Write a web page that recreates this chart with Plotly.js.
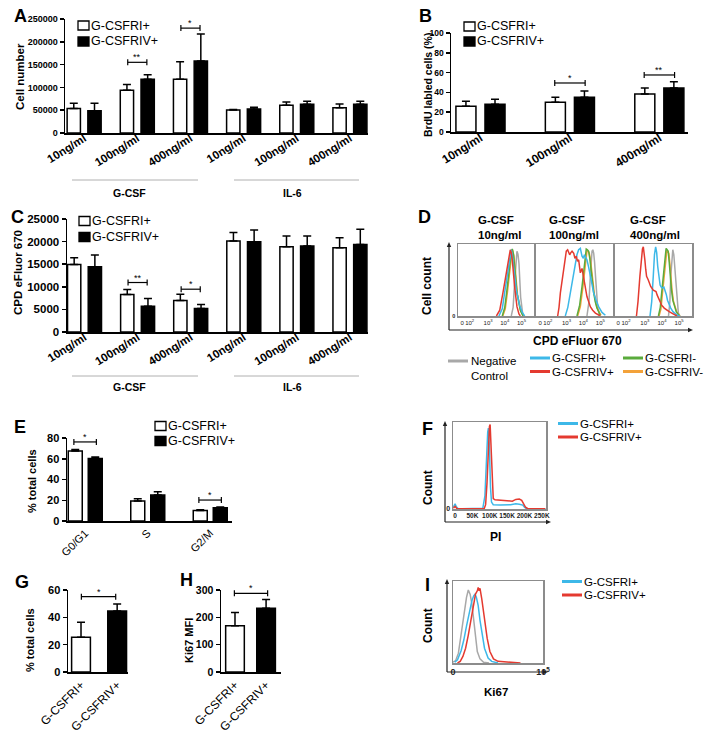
<!DOCTYPE html>
<html><head><meta charset="utf-8">
<script src="https://cdn.plot.ly/plotly-3.0.1.min.js"></script>
<style>html,body{margin:0;padding:0;background:#fff}#chart{width:709px;height:733px}</style>
</head><body><div id="chart"></div>
<script>
// ================= DATA =================
const seriesNames = ['G-CSFRI+', 'G-CSFRIV+'];
// Panel A / C categories
const doseCats = ['G-CSF 10ng/ml', 'G-CSF 100ng/ml', 'G-CSF 400ng/ml', 'IL-6 10ng/ml', 'IL-6 100ng/ml', 'IL-6 400ng/ml'];
const doseTicks = ['10ng/ml', '100ng/ml', '400ng/ml', '10ng/ml', '100ng/ml', '400ng/ml'];
const stimGroups = ['G-CSF', 'IL-6'];
// Panel A: cell number
const cellRI = [54000, 94000, 118000, 50400, 60700, 55500];
const cellRIerr = [11000, 12500, 38000, 1000, 7300, 8000];
const cellRIV = [49000, 118000, 158000, 52600, 62900, 62900];
const cellRIVerr = [16000, 10000, 59000, 3700, 6600, 6600];
const sigA_cat = [1, 2];
const sigA_y = [155000, 230000];
const sigA_txt = ['**', '*'];
// Panel B: BrdU
const brduCats = ['10ng/ml', '100ng/ml', '400ng/ml'];
const brduRI = [26, 30, 38.4];
const brduRIerr = [5, 5, 6];
const brduRIV = [28, 35, 44.4];
const brduRIVerr = [5, 6.4, 6.4];
const sigB_cat = [1, 2];
const sigB_y = [49.5, 57.6];
const sigB_txt = ['*', '**'];
// Panel C: CPD eFluor 670
const cpdRI = [14940, 8280, 6950, 20120, 18860, 18640];
const cpdRIerr = [1480, 1110, 1400, 1920, 2370, 2220];
const cpdRIV = [14420, 5700, 5180, 19970, 19010, 19380];
const cpdRIVerr = [2590, 1700, 890, 2590, 2220, 3330];
const sigC_cat = [1, 2];
const sigC_y = [10950, 9470];
const sigC_txt = ['**', '*'];
// Panel D: CPD histograms (x in display decades, y in % of max)
const dTitles = ['G-CSF<br>10ng/ml', 'G-CSF<br>100ng/ml', 'G-CSF<br>400ng/ml'];
const dSeries = ['Negative Control', 'G-CSFRI+', 'G-CSFRI-', 'G-CSFRIV+', 'G-CSFRIV-'];
const dTickVals = [0.45, 0.9, 2, 3, 4];
const dTickText = ['0', '10<sup>2</sup>', '10<sup>3</sup>', '10<sup>4</sup>', '10<sup>5</sup>'];
// box 1 (10 ng/ml)
const d1NegX = [3.39, 3.5, 3.59, 3.66, 3.73, 3.79, 3.85, 3.95, 4.09];
const d1NegY = [0, 12, 46, 75, 90, 86, 73, 26, 0];
const d1RIpX = [2.65, 2.85, 2.99, 3.12, 3.25, 3.33, 3.39, 3.46, 3.53, 3.69, 3.89, 4.05, 4.19];
const d1RIpY = [0, 10, 32, 52, 73, 88, 92, 84, 69, 36, 15, 5, 0];
const d1RIVpX = [2.5, 2.7, 2.89, 3.05, 3.19, 3.27, 3.33, 3.39, 3.45, 3.59, 3.73, 3.85, 3.93];
const d1RIVpY = [0, 8, 32, 55, 78, 88, 92, 88, 78, 41, 13, 3, 0];
const d1RInX = [2.85, 3.0, 3.13, 3.25, 3.33, 3.4, 3.45, 3.52, 3.59, 3.73, 3.93, 4.09];
const d1RInY = [0, 12, 36, 65, 83, 91, 93, 86, 69, 32, 8, 0];
const d1RIVnX = [2.88, 3.03, 3.16, 3.28, 3.36, 3.43, 3.48, 3.55, 3.62, 3.76, 3.96, 4.12];
const d1RIVnY = [0, 10, 33, 60, 80, 89, 90, 83, 66, 30, 7, 0];
// box 2 (100 ng/ml)
const d2NegX = [3.21, 3.33, 3.41, 3.47, 3.51, 3.56, 3.61, 3.66, 3.71, 3.78, 3.84, 3.96];
const d2NegY = [0, 20, 55, 80, 90, 92, 87, 75, 55, 30, 13, 0];
const d2RIpX = [1.93, 2.08, 2.23, 2.38, 2.52, 2.62, 2.72, 2.82, 2.92, 3.0, 3.06, 3.13, 3.21, 3.31, 3.41, 3.51, 3.61, 3.75, 3.9, 4.1, 4.3];
const d2RIpY = [0, 12, 32, 52, 73, 85, 92, 94, 83, 80, 85, 82, 78, 68, 55, 43, 32, 22, 13, 5, 1];
const d2RIVpX = [1.48, 1.56, 1.64, 1.74, 1.83, 1.92, 1.99, 2.07, 2.13, 2.19, 2.26, 2.33, 2.43, 2.5, 2.58, 2.65, 2.72, 2.82, 2.92, 3.0, 3.06, 3.14, 3.21, 3.31, 3.41, 3.55, 3.71, 4.0];
const d2RIVpY = [0, 12, 32, 50, 69, 82, 90, 92, 88, 85, 88, 90, 87, 80, 83, 76, 78, 60, 66, 55, 48, 38, 27, 20, 13, 8, 4, 0];
const d2RInX = [2.62, 2.78, 2.92, 3.0, 3.06, 3.12, 3.17, 3.24, 3.31, 3.38, 3.45, 3.53, 3.61, 3.7, 3.8, 4.0];
const d2RInY = [0, 15, 41, 58, 73, 86, 93, 92, 90, 80, 64, 46, 32, 20, 11, 1];
const d2RIVnX = [2.66, 2.82, 2.96, 3.04, 3.1, 3.16, 3.21, 3.28, 3.35, 3.42, 3.49, 3.57, 3.65, 3.74, 3.84, 4.04];
const d2RIVnY = [0, 13, 38, 55, 70, 84, 90, 90, 87, 78, 62, 44, 30, 18, 10, 1];
// box 3 (400 ng/ml)
const d3NegX = [3.38, 3.46, 3.51, 3.57, 3.63, 3.69, 3.75, 3.81, 3.87, 3.95, 4.02];
const d3NegY = [0, 20, 55, 82, 92, 85, 64, 40, 18, 5, 0];
const d3RIpX = [2.3, 2.4, 2.49, 2.56, 2.63, 2.69, 2.75, 2.82, 2.89, 2.96, 3.04, 3.11, 3.18, 3.25, 3.32, 3.42, 3.51, 3.64, 3.77, 3.9, 4.06];
const d3RIpY = [0, 20, 55, 85, 96, 88, 69, 52, 43, 40, 39, 40, 36, 30, 22, 16, 11, 6, 3, 1, 0];
const d3RIVpX = [1.51, 1.6, 1.71, 1.77, 1.81, 1.86, 1.91, 1.96, 2.0, 2.05, 2.1, 2.2, 2.34, 2.49, 2.57, 2.65, 2.72, 2.79, 2.88, 2.98, 3.13, 3.28, 3.42, 3.57, 3.72, 3.87];
const d3RIVpY = [0, 20, 55, 75, 87, 93, 96, 88, 78, 65, 55, 50, 41, 36, 35, 34, 29, 25, 20, 15, 11, 8, 6, 4, 2, 0];
const d3RInX = [2.79, 2.9, 2.98, 3.05, 3.12, 3.18, 3.24, 3.3, 3.36, 3.42, 3.47, 3.55, 3.63, 3.73, 3.83, 4.02];
const d3RInY = [0, 12, 32, 50, 69, 86, 94, 92, 90, 75, 55, 37, 22, 12, 6, 0];
const d3RIVnX = [2.83, 2.94, 3.02, 3.09, 3.16, 3.22, 3.28, 3.34, 3.4, 3.46, 3.51, 3.59, 3.67, 3.77, 3.87, 4.06];
const d3RIVnY = [0, 10, 30, 48, 66, 82, 90, 90, 87, 72, 53, 35, 20, 11, 5, 0];
// Panel E: cell cycle
const phaseCats = ['G0/G1', 'S', 'G2/M'];
const phaseRI = [67.5, 19.2, 10.2];
const phaseRIerr = [1.3, 2.2, 0.7];
const phaseRIV = [60.2, 25, 12.8];
const phaseRIVerr = [1.6, 3.2, 0.6];
const sigE_cat = [0, 2];
const sigE_y = [76.2, 20.2];
const sigE_txt = ['*', '*'];
// Panel F: PI histogram
const piTickVals = [0, 50000, 100000, 150000, 200000, 250000];
const piTickText = ['0', '50K', '100K', '150K', '200K', '250K'];
const piRIx = [-5000, 0, 3000, 8000, 20000, 60000, 80000, 86000, 90000, 94000, 96000, 99000, 102000, 105000, 110000, 130000, 160000, 175000, 185000, 195000, 200000, 205000, 215000, 260000];
const piRIy = [2, 6, 3, 0.5, 0.3, 0.3, 1, 15, 55, 88, 93, 70, 25, 8, 5, 4.5, 5, 6, 5.5, 4.5, 2, 0.5, 0.2, 0.2];
const piRIVx = [-5000, 0, 5000, 20000, 60000, 84000, 88000, 92000, 96000, 99000, 101000, 104000, 107000, 110000, 115000, 130000, 150000, 165000, 175000, 185000, 192000, 198000, 203000, 210000, 260000];
const piRIVy = [1, 3, 0.5, 0.3, 0.3, 0.5, 5, 30, 75, 95, 97, 70, 25, 12, 10.5, 10, 9, 9, 11, 11.5, 10, 6, 2, 0.3, 0.2];
// Panel G: Ki67+ %
const ki67Cats = ['G-CSFRI+', 'G-CSFRIV+'];
const ki67Pct = [25.5, 44.7];
const ki67PctErr = [10.9, 5.1];
const sigG_y = 55.1;
// Panel H: Ki67 MFI
const ki67MFI = [169, 233];
const ki67MFIerr = [48.5, 32];
const sigH_y = 288;
// Panel I: Ki67 histogram (x as fraction of 0..10^5 display)
const kiTickVals = [0, 1];
const kiTickText = ['0', '10<sup>5</sup>'];
const kiNegX = [0.0, 0.03, 0.06, 0.09, 0.12, 0.15, 0.17, 0.19, 0.21, 0.23, 0.25, 0.27, 0.3, 0.34, 0.4];
const kiNegY = [1, 3, 12, 35, 60, 80, 89, 84, 72, 52, 30, 14, 5, 1, 0];
const kiRIx = [0.02, 0.05, 0.09, 0.12, 0.15, 0.18, 0.21, 0.23, 0.245, 0.26, 0.28, 0.3, 0.32, 0.35, 0.39, 0.43, 0.5];
const kiRIy = [1, 4, 15, 28, 45, 62, 76, 82, 84, 80, 70, 52, 36, 18, 6, 2, 0];
const kiRIVx = [0.05, 0.08, 0.11, 0.14, 0.17, 0.2, 0.23, 0.25, 0.27, 0.28, 0.29, 0.3, 0.32, 0.35, 0.38, 0.41, 0.45, 0.5, 0.6, 0.66, 0.75];
const kiRIVy = [0, 2, 8, 18, 34, 52, 72, 84, 88, 92, 88, 91, 78, 52, 30, 14, 5, 2, 1, 0.5, 0];

// ================= STYLE / LAYOUT HELPERS =================
const W = 709, H = 733;
const FONT = 'Arial, "Liberation Sans", sans-serif';
const X = v => v / W, Y = v => 1 - v / H;
const xdom = (a, b) => [a / W, b / W];
const ydom = (t, b) => [1 - b / H, 1 - t / H];
const C = { neg: '#a8a8a8', ripos: '#3db8e8', rineg: '#5aab3c', rivpos: '#e43a30', rivneg: '#f3a23a', box: '#8c8c8c' };
const zeros = a => a.map(() => 0);
const base = { showgrid: false, zeroline: false, fixedrange: true };
const bold = s => ({ family: FONT, size: s, color: 'black', weight: 'bold' });

function barX(dom, anchor, cats, ticks, range, angle, fs, weight, standoff) {
  return Object.assign({}, base, {
    domain: xdom(dom[0], dom[1]), anchor, type: 'category', categoryorder: 'array', categoryarray: cats,
    range, tickmode: 'array', tickvals: cats, ticktext: ticks, tickangle: angle, ticks: '',
    ticklabelstandoff: standoff || 0,
    showline: true, linecolor: 'black', linewidth: 1.5,
    tickfont: { family: FONT, size: fs, color: 'black', weight }
  });
}
function barY(dom, anchor, range, dtick, fs) {
  return Object.assign({}, base, {
    domain: ydom(dom[0], dom[1]), anchor, range, dtick, tick0: 0, tickformat: 'd',
    ticks: 'outside', ticklen: 4, tickwidth: 1.5, tickcolor: 'black',
    showline: true, linecolor: 'black', linewidth: 1.5,
    tickfont: bold(fs)
  });
}
function histX(dom, anchor, range, tv, tt, fs, weight) {
  return Object.assign({}, base, {
    domain: xdom(dom[0], dom[1]), anchor, range, tickmode: 'array', tickvals: tv, ticktext: tt,
    tickangle: 0, ticks: '', showline: true, mirror: true, linecolor: C.box, linewidth: 1.5,
    tickfont: { family: FONT, size: fs, color: '#222', weight: weight || 'normal' }
  });
}
function histY(dom, anchor, show0, fs) {
  return Object.assign({}, base, {
    domain: ydom(dom[0], dom[1]), anchor, range: [0, 100], tickmode: 'array',
    tickvals: [0], ticktext: ['0'], showticklabels: show0, ticks: '',
    showline: true, mirror: true, linecolor: C.box, linewidth: 1.5,
    tickfont: { family: FONT, size: fs, color: '#222', weight: 'bold' }
  });
}
function bar(xa, ya, x, y, err, color, offset, width, name) {
  return {
    type: 'bar', x, y, xaxis: xa, yaxis: ya, offset, width, name, showlegend: false,
    marker: { color, line: { color: 'black', width: 1.5 } },
    error_y: { type: 'data', array: err, arrayminus: zeros(err), symmetric: false, color: 'black', thickness: 1.5, width: 4 },
    hoverinfo: 'skip'
  };
}
function line(xa, ya, x, y, color, name) {
  return { type: 'scatter', mode: 'lines', x, y, xaxis: xa, yaxis: ya, name, showlegend: false,
    line: { color, width: 1.5 }, hoverinfo: 'skip' };
}

const traces = [];
const shapes = [];
const annotations = [];
function txt(x, y, text, font, opts) {
  annotations.push(Object.assign({ xref: 'paper', yref: 'paper', x: X(x), y: Y(y), text, showarrow: false,
    xanchor: 'center', yanchor: 'middle', borderpad: 0, font }, opts || {}));
}
function bracket(xa, ya, xl, xr, y, label) {
  const ln = { color: 'black', width: 1.2 };
  shapes.push({ type: 'line', xref: xa, yref: ya, x0: xl, x1: xr, y0: y, y1: y, line: ln });
  [xl, xr].forEach(xx => shapes.push({ type: 'line', xref: xa, yref: ya, x0: xx, x1: xx,
    ysizemode: 'pixel', yanchor: y, y0: -3, y1: 3, line: ln }));
  annotations.push({ xref: xa, yref: ya, x: (xl + xr) / 2, y, text: label, showarrow: false,
    xanchor: 'center', yanchor: 'bottom', yshift: -1, borderpad: 0, font: { family: FONT, size: 9, color: 'black' } });
}
function pline(x0, y0, x1, y1, color, width) {
  shapes.push({ type: 'line', xref: 'paper', yref: 'paper', x0: X(x0), y0: Y(y0), x1: X(x1), y1: Y(y1),
    line: { color, width } });
}
function prect(x0, y0, x1, y1, fill) {
  shapes.push({ type: 'rect', xref: 'paper', yref: 'paper', x0: X(x0), y0: Y(y0), x1: X(x1), y1: Y(y1),
    fillcolor: fill, line: { color: 'black', width: 1.3 } });
}
function arrowAxes(xL, yTop, yBot, xRight) {
  pline(xL, yBot, xL, yTop + 3, '#222', 1.2);
  pline(xL, yBot, xRight - 3, yBot, '#222', 1.2);
  shapes.push({ type: 'path', xref: 'paper', yref: 'paper', fillcolor: '#222', line: { width: 0 },
    path: `M${X(xL - 2.2)},${Y(yTop + 5)} L${X(xL)},${Y(yTop)} L${X(xL + 2.2)},${Y(yTop + 5)} Z` });
  shapes.push({ type: 'path', xref: 'paper', yref: 'paper', fillcolor: '#222', line: { width: 0 },
    path: `M${X(xRight - 5)},${Y(yBot - 2.2)} L${X(xRight)},${Y(yBot)} L${X(xRight - 5)},${Y(yBot + 2.2)} Z` });
}
const legFont = { family: FONT, size: 12.5, color: 'black' };
const legFontS = { family: FONT, size: 11.5, color: 'black' };
function barLegend(x, y1, y2) {
  prect(x, y1 - 4.5, x + 11, y1 + 4.5, 'white');
  prect(x, y2 - 4.5, x + 11, y2 + 4.5, 'black');
  txt(x + 12, y1, seriesNames[0], legFont, { xanchor: 'left' });
  txt(x + 12, y2, seriesNames[1], legFont, { xanchor: 'left' });
}
function lineLegend(x, y, color, label) {
  pline(x, y, x + 20, y, color, 3);
  txt(x + 21, y, label, legFontS, { xanchor: 'left', align: 'left' });
}

// ---------- Panel A ----------
traces.push(bar('x', 'y', doseCats, cellRI, cellRIerr, 'white', -0.32, 0.25, seriesNames[0]));
traces.push(bar('x', 'y', doseCats, cellRIV, cellRIVerr, 'black', 0.07, 0.25, seriesNames[1]));
sigA_cat.forEach((c, i) => bracket('x', 'y', c - 0.18, c + 0.18, sigA_y[i], sigA_txt[i]));
barLegend(78, 25.5, 41.5);
// ---------- Panel B ----------
traces.push(bar('x2', 'y2', brduCats, brduRI, brduRIerr, 'white', -0.275, 0.224, seriesNames[0]));
traces.push(bar('x2', 'y2', brduCats, brduRIV, brduRIVerr, 'black', 0.05, 0.224, seriesNames[1]));
sigB_cat.forEach((c, i) => bracket('x2', 'y2', c - 0.17, c + 0.17, sigB_y[i], sigB_txt[i]));
barLegend(464, 26.5, 41.5);
// ---------- Panel C ----------
traces.push(bar('x3', 'y3', doseCats, cpdRI, cpdRIerr, 'white', -0.32, 0.25, seriesNames[0]));
traces.push(bar('x3', 'y3', doseCats, cpdRIV, cpdRIVerr, 'black', 0.07, 0.25, seriesNames[1]));
sigC_cat.forEach((c, i) => bracket('x3', 'y3', c - 0.18, c + 0.18, sigC_y[i], sigC_txt[i]));
barLegend(79, 221, 237);
// ---------- Panel D ----------
const dBoxes = [
  [d1NegX, d1NegY, d1RIVnX, d1RIVnY, d1RInX, d1RInY, d1RIpX, d1RIpY, d1RIVpX, d1RIVpY],
  [d2NegX, d2NegY, d2RIVnX, d2RIVnY, d2RInX, d2RInY, d2RIpX, d2RIpY, d2RIVpX, d2RIVpY],
  [d3NegX, d3NegY, d3RIVnX, d3RIVnY, d3RInX, d3RInY, d3RIpX, d3RIpY, d3RIVpX, d3RIVpY]
];
dBoxes.forEach((b, i) => {
  const xa = 'x' + (4 + i), ya = 'y' + (4 + i);
  traces.push(line(xa, ya, b[0], b[1], C.neg, dSeries[0]));
  traces.push(line(xa, ya, b[2], b[3], C.rivneg, dSeries[4]));
  traces.push(line(xa, ya, b[4], b[5], C.rineg, dSeries[2]));
  traces.push(line(xa, ya, b[6], b[7], C.ripos, dSeries[1]));
  traces.push(line(xa, ya, b[8], b[9], C.rivpos, dSeries[3]));
});
[477, 548, 629].forEach((x, i) => txt(x, 213, dTitles[i], bold(11.5), { xanchor: 'left', yanchor: 'top', align: 'left' }));
txt(427, 286, 'Cell count', bold(12), { textangle: -90 });
txt(577, 341, 'CPD eFluor 670', bold(12));
arrowAxes(449, 242, 330, 693);
pline(448, 361, 468, 361, C.neg, 3);
txt(470, 368, 'Negative<br>Control', legFontS, { xanchor: 'left', align: 'left' });
lineLegend(530, 358, C.ripos, dSeries[1]);
lineLegend(530, 371.5, C.rivpos, dSeries[3]);
lineLegend(623, 358, C.rineg, dSeries[2]);
lineLegend(623, 371.5, C.rivneg, dSeries[4]);
// ---------- Panel E ----------
traces.push(bar('x7', 'y7', phaseCats, phaseRI, phaseRIerr, 'white', -0.27, 0.224, seriesNames[0]));
traces.push(bar('x7', 'y7', phaseCats, phaseRIV, phaseRIVerr, 'black', 0.05, 0.224, seriesNames[1]));
sigE_cat.forEach((c, i) => bracket('x7', 'y7', c - 0.18, c + 0.18, sigE_y[i], sigE_txt[i]));
barLegend(155, 426, 441);
// ---------- Panel F ----------
traces.push(line('x8', 'y8', piRIx, piRIy, C.ripos, seriesNames[0]));
traces.push(line('x8', 'y8', piRIVx, piRIVy, C.rivpos, seriesNames[1]));
lineLegend(558, 423.5, C.ripos, seriesNames[0]);
lineLegend(558, 437, C.rivpos, seriesNames[1]);
txt(428, 487, 'Count', bold(12), { textangle: -90 });
txt(495, 537, 'PI', bold(12));
arrowAxes(445, 421, 522, 551);
// ---------- Panel G ----------
traces.push({ type: 'bar', x: ki67Cats, y: ki67Pct, xaxis: 'x9', yaxis: 'y9', width: 0.52, showlegend: false,
  marker: { color: ['white', 'black'], line: { color: 'black', width: 1.5 } },
  error_y: { type: 'data', array: ki67PctErr, arrayminus: zeros(ki67PctErr), symmetric: false, color: 'black', thickness: 1.5, width: 4 },
  hoverinfo: 'skip' });
bracket('x9', 'y9', 0.01, 0.96, sigG_y, '*');
// ---------- Panel H ----------
traces.push({ type: 'bar', x: ki67Cats, y: ki67MFI, xaxis: 'x10', yaxis: 'y10', width: 0.6, showlegend: false,
  marker: { color: ['white', 'black'], line: { color: 'black', width: 1.5 } },
  error_y: { type: 'data', array: ki67MFIerr, arrayminus: zeros(ki67MFIerr), symmetric: false, color: 'black', thickness: 1.5, width: 4 },
  hoverinfo: 'skip' });
bracket('x10', 'y10', -0.02, 1.05, sigH_y, '*');
// ---------- Panel I ----------
traces.push(line('x11', 'y11', kiNegX, kiNegY, C.neg, 'Negative Control'));
traces.push(line('x11', 'y11', kiRIx, kiRIy, C.ripos, seriesNames[0]));
traces.push(line('x11', 'y11', kiRIVx, kiRIVy, C.rivpos, seriesNames[1]));
lineLegend(562, 581.5, C.ripos, seriesNames[0]);
lineLegend(562, 595, C.rivpos, seriesNames[1]);
txt(428, 625, 'Count', bold(12), { textangle: -90 });
txt(496, 692, 'Ki67', bold(11.5));
arrowAxes(447, 579, 672, 548);

// ---------- shared decorations ----------
[[180, 193], [376, 387]].forEach(([ly, ty]) => {
  pline(72, ly, 198, ly, '#b0b0b0', 1);
  pline(234, ly, 359, ly, '#b0b0b0', 1);
  txt(129, ty, stimGroups[0], bold(10.5));
  txt(292, ty, stimGroups[1], bold(10.5));
});
// y-axis titles
txt(20, 77, 'Cell number', bold(11.5), { textangle: -90 });
txt(428, 85, 'BrdU labled cells (%)', bold(10.5), { textangle: -90 });
txt(18, 273, 'CPD eFluor 670', bold(11.5), { textangle: -90 });
txt(32, 481, '% total cells', bold(11), { textangle: -90 });
txt(30, 640, '% total cells', bold(11), { textangle: -90 });
txt(189, 640, 'Ki67 MFI', bold(11), { textangle: -90 });
// panel letters
[['A', 20, 16], ['B', 426, 16], ['C', 17, 217], ['D', 425, 217], ['E', 20, 427], ['F', 428, 429],
 ['G', 22, 582], ['H', 186, 580], ['I', 428, 585]].forEach(([t, x, y]) => txt(x, y, t, bold(18)));

const layout = {
  width: W, height: H, margin: { l: 0, r: 0, t: 0, b: 0 }, paper_bgcolor: 'white', plot_bgcolor: 'rgba(0,0,0,0)',
  barmode: 'overlay', showlegend: false, font: { family: FONT, color: 'black' },
  xaxis: barX([65, 368], 'y', doseCats, doseTicks, [-0.36, 5.34], -32, 11.5, 'bold', -7),
  yaxis: barY([19, 133], 'x', [0, 250000], 50000, 9),
  xaxis2: barX([451, 688], 'y2', brduCats, brduCats, [-0.33, 2.32], -32, 12, 'bold', -7),
  yaxis2: barY([33, 132], 'x2', [0, 100], 20, 8.5),
  xaxis3: barX([67, 368], 'y3', doseCats, doseTicks, [-0.33, 5.34], -32, 11.5, 'bold', -7),
  yaxis3: barY([219, 332], 'x3', [0, 25000], 5000, 11.5),
  xaxis4: histX([458, 534], 'y4', [0.2, 4.75], dTickVals, dTickText, 6),
  yaxis4: histY([244, 316], 'x4', true, 5.5),
  xaxis5: histX([536, 613], 'y5', [0.2, 4.75], dTickVals, dTickText, 6),
  yaxis5: histY([244, 316], 'x5', false, 5.5),
  xaxis6: histX([614, 692], 'y6', [0.2, 4.75], dTickVals, dTickText, 6),
  yaxis6: histY([244, 316], 'x6', false, 5.5),
  xaxis7: barX([67, 232], 'y7', phaseCats, phaseCats, [-0.29, 2.35], -45, 11, 'normal', 0),
  yaxis7: barY([438, 521], 'x7', [0, 80], 20, 11),
  xaxis8: histX([453, 546], 'y8', [-6000, 262000], piTickVals, piTickText, 6.5, 'bold'),
  yaxis8: histY([422, 509], 'x8', true, 7),
  xaxis9: barX([68, 128], 'y9', ki67Cats, ki67Cats, [-0.36, 1.3], -45, 12, 'normal', 0),
  yaxis9: barY([590, 672], 'x9', [0, 60], 20, 11),
  xaxis10: barX([221, 281], 'y10', ki67Cats, ki67Cats, [-0.45, 1.48], -45, 12, 'normal', 0),
  yaxis10: barY([590, 672], 'x10', [0, 300], 100, 10.5),
  xaxis11: histX([453, 543], 'y11', [0, 1], kiTickVals, kiTickText, 9, 'bold'),
  yaxis11: histY([581, 663], 'x11', false, 7),
  shapes, annotations
};

Plotly.newPlot('chart', traces, layout, { staticPlot: true, displayModeBar: false });
</script>
</body></html>
